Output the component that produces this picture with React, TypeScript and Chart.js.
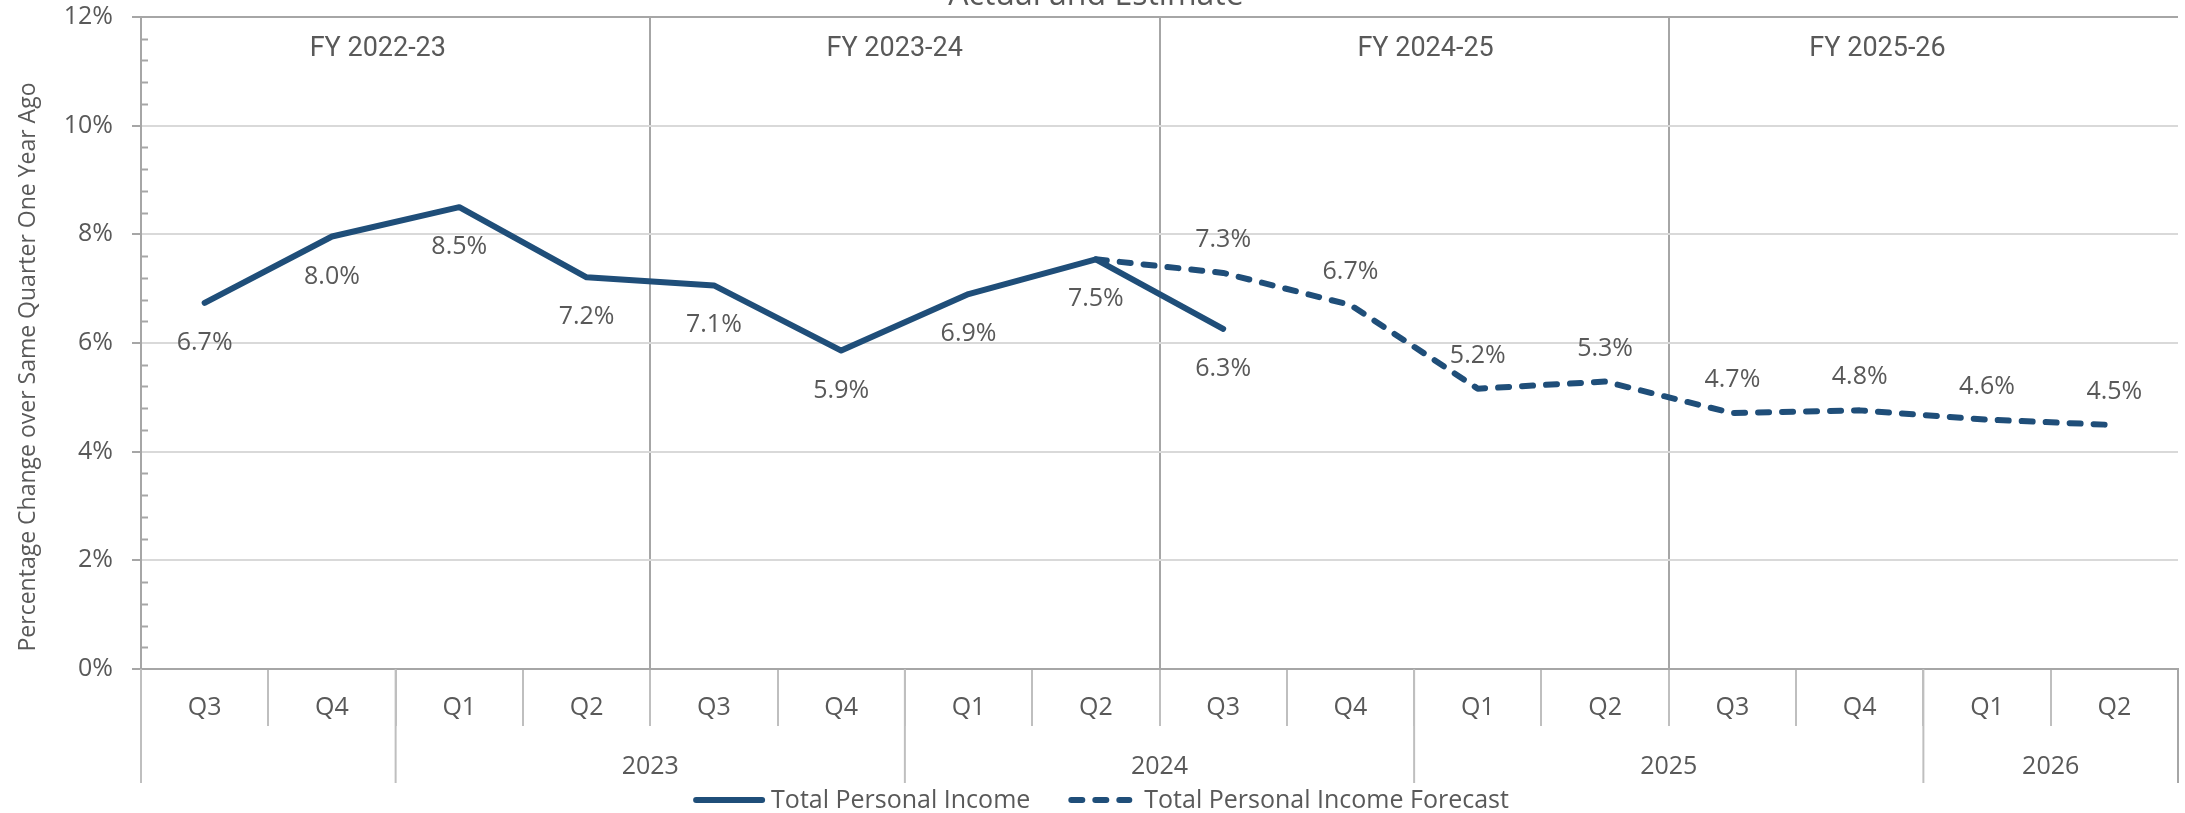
import React, { useEffect, useRef } from 'react';
import { Chart, registerables } from 'chart.js';

Chart.register(...registerables);

// ---- data ----
const quarters = ['Q3', 'Q4', 'Q1', 'Q2', 'Q3', 'Q4', 'Q1', 'Q2', 'Q3', 'Q4', 'Q1', 'Q2', 'Q3', 'Q4', 'Q1', 'Q2'];
const actualValues = [6.74, 7.96, 8.5, 7.21, 7.06, 5.86, 6.9, 7.54, 6.26, null, null, null, null, null, null, null];
const forecastValues = [null, null, null, null, null, null, null, 7.54, 7.29, 6.7, 5.16, 5.29, 4.71, 4.76, 4.59, 4.49];
const forecastLabelFrom = 8;
const yearLabels = ['', '2023', '2024', '2025', '2026'];
const yearStart = [0, 2, 6, 10, 14];
const yearEnd = [2, 6, 10, 14, 16];
const fyLabels = ['FY 2022-23', 'FY 2023-24', 'FY 2024-25', 'FY 2025-26'];
const fyLabelAt = [1.36, 5.42, 9.59, 13.14];
const fyBoundaries = [4, 8, 12];
const yMin = 0;
const yMax = 12;
const yStep = 2;
const yMinorStep = 0.4;
const titleText = 'Actual and Estimate';
const yTitleText = 'Percentage Change over Same Quarter One Year Ago';
const seriesNames = ['Total Personal Income', 'Total Personal Income Forecast'];

const BLUE = '#1f4e79';
const TEXT = '#595959';
const AXIS = '#a6a6a6';
const GRID = '#d9d9d9';
const SEP = '#bfbfbf';

const decor = {
  id: 'decor',
  afterDraw(chart: any) {
    const { ctx, chartArea: ca, scales } = chart;
    const x = scales.x;
    const y = scales.y;
    const half = (x.getPixelForValue(1) - x.getPixelForValue(0)) / 2;
    const bnd = (i: number) => x.getPixelForValue(i) - half;
    ctx.save();

    // minor y ticks (inside)
    ctx.strokeStyle = AXIS;
    ctx.lineWidth = 2;
    for (let v = yMin; v <= yMax + 1e-9; v += yMinorStep) {
      const r = Math.round(v * 10) / 10;
      if (Math.abs(r / yStep - Math.round(r / yStep)) < 1e-6) continue;
      const py = Math.round(y.getPixelForValue(r)) + 0.5;
      ctx.beginPath();
      ctx.moveTo(ca.left, py);
      ctx.lineTo(ca.left + 7, py);
      ctx.stroke();
    }

    // year separators (long)
    ctx.lineWidth = 2;
    const seps = new Set<number>();
    yearStart.forEach((s) => seps.add(s));
    yearEnd.forEach((e) => seps.add(e));
    seps.forEach((i) => {
      const px = bnd(i);
      ctx.strokeStyle = i === quarters.length ? AXIS : SEP;
      ctx.beginPath();
      ctx.moveTo(px, ca.bottom);
      ctx.lineTo(px, ca.bottom + 114);
      ctx.stroke();
    });

    // year labels
    ctx.fillStyle = TEXT;
    ctx.font = '25px "Open Sans"';
    ctx.textAlign = 'center';
    ctx.textBaseline = 'alphabetic';
    yearLabels.forEach((lab, i) => {
      if (!lab) return;
      const cx = (bnd(yearStart[i]) + bnd(yearEnd[i])) / 2;
      ctx.fillText(lab, cx, ca.bottom + 105);
    });

    // FY labels
    ctx.font = '27px Roboto';
    fyLabels.forEach((lab, i) => {
      ctx.fillText(lab, x.getPixelForValue(fyLabelAt[i]), ca.top + 39);
    });

    // data labels
    ctx.font = '25px "Open Sans"';
    const ds = chart.data.datasets;
    ds[0].data.forEach((v: number | null, i: number) => {
      if (v == null) return;
      ctx.fillText(v.toFixed(1) + '%', x.getPixelForValue(i), y.getPixelForValue(v) + 47);
    });
    ds[1].data.forEach((v: number | null, i: number) => {
      if (v == null || i < forecastLabelFrom) return;
      ctx.fillText(v.toFixed(1) + '%', x.getPixelForValue(i), y.getPixelForValue(v) - 26);
    });

    // chart title (clipped at top)
    ctx.font = '32px "Open Sans"';
    ctx.fillText(titleText, 1096, 5);

    // y axis title
    ctx.save();
    ctx.font = '23px "Open Sans"';
    ctx.textBaseline = 'alphabetic';
    ctx.translate(35, 367);
    ctx.rotate(-Math.PI / 2);
    ctx.fillText(yTitleText, 0, 0);
    ctx.restore();

    // legend
    const ly = 800;
    ctx.font = '25px "Open Sans"';
    const w1 = ctx.measureText(ds[0].label).width;
    const w2 = ctx.measureText(ds[1].label).width;
    const s1 = 72, s2 = 64, g1 = 6, g2 = 12, gap = 38;
    const total = s1 + g1 + w1 + gap + s2 + g2 + w2;
    let lx = 1101 - total / 2;
    ctx.strokeStyle = BLUE;
    ctx.lineWidth = 6;
    ctx.lineCap = 'round';
    ctx.beginPath();
    ctx.moveTo(lx + 3, ly);
    ctx.lineTo(lx + s1 - 3, ly);
    ctx.stroke();
    lx += s1 + g1;
    ctx.textAlign = 'left';
    ctx.fillStyle = TEXT;
    ctx.fillText(ds[0].label, lx, 808);
    lx += w1 + gap;
    ctx.setLineDash([11, 13]);
    ctx.beginPath();
    ctx.moveTo(lx + 3, ly);
    ctx.lineTo(lx + s2 - 3, ly);
    ctx.stroke();
    ctx.setLineDash([]);
    lx += s2 + g2;
    ctx.fillText(ds[1].label, lx, 808);

    ctx.restore();
  },
};

export default function App() {
  const ref = useRef<HTMLCanvasElement | null>(null);
  useEffect(() => {
    if (!ref.current) return;
    const chart = new Chart(ref.current, {
      type: 'line',
      data: {
        labels: quarters,
        datasets: [
          {
            label: seriesNames[0],
            data: actualValues,
            borderColor: BLUE,
            backgroundColor: BLUE,
            borderWidth: 6,
            pointRadius: 0,
            borderJoinStyle: 'round',
            borderCapStyle: 'round',
            spanGaps: false,
          },
          {
            label: seriesNames[1],
            data: forecastValues,
            borderColor: BLUE,
            backgroundColor: BLUE,
            borderWidth: 6,
            pointRadius: 0,
            borderDash: [11, 13],
            borderJoinStyle: 'round',
            borderCapStyle: 'round',
          },
        ],
      } as any,
      options: {
        animation: false,
        responsive: true,
        maintainAspectRatio: false,
        layout: { padding: { left: 0, right: 7, top: 17, bottom: 0 } },
        plugins: { legend: { display: false }, title: { display: false }, tooltip: { enabled: false } },
        scales: {
          x: {
            type: 'category',
            offset: true,
            border: { display: true, color: AXIS, width: 2 },
            grid: {
              offset: true,
              drawOnChartArea: true,
              drawTicks: true,
              tickLength: 57,
              lineWidth: 2,
              color: (c: any) => (fyBoundaries.includes(c.index) || c.index === quarters.length ? AXIS : 'rgba(0,0,0,0)'),
              tickColor: SEP,
            },
            ticks: {
              color: TEXT,
              font: { family: 'Open Sans', size: 25 },
              padding: -33,
              maxRotation: 0,
              autoSkip: false,
            },
            afterFit: (s: any) => { s.height = 144; s.paddingLeft = 0; s.paddingRight = 0; },
          },
          y: {
            min: yMin,
            max: yMax,
            border: { display: true, color: AXIS, width: 2 },
            grid: {
              lineWidth: 2,
              color: (c: any) => (c.tick && c.tick.value === yMax ? AXIS : GRID),
              tickColor: AXIS,
              tickLength: 9,
            },
            ticks: {
              stepSize: yStep,
              color: TEXT,
              font: { family: 'Open Sans', size: 25 },
              padding: 19,
              callback: (v: any) => v + '%',
            },
            afterFit: (s: any) => { s.width = 141; s.paddingTop = 0; s.paddingBottom = 0; },
          },
        },
      } as any,
      plugins: [decor],
    });
    return () => chart.destroy();
  }, []);
  return (
    <div style={{ position: 'fixed', left: 0, top: 0, width: 2185, height: 813, background: '#fff' }}>
      <canvas ref={ref} />
    </div>
  );
}
